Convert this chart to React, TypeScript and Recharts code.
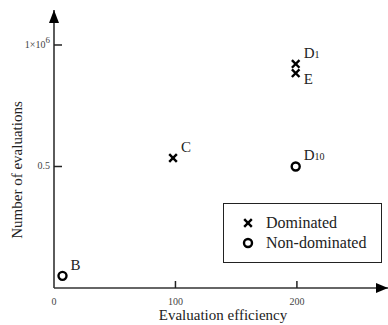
import { ScatterChart, Scatter, XAxis, YAxis, ReferenceDot, Legend } from 'recharts'

const dominatedNames = ['C', 'D1', 'E']
const dominatedX = [98, 199, 199]
const dominatedY = [535000, 922000, 884000]

const nonDominatedNames = ['B', 'D10']
const nonDominatedX = [7, 199]
const nonDominatedY = [50000, 500000]

const xTicks = [0, 100, 200]
const yTicks = [500000, 1000000]
const X_MAX = 275
const Y_MAX = 1144000

// labels that sit under their marker instead of above it
const labelsBelow = ['E']

const FONT = "'Liberation Serif', serif"
const INK = '#222'

const toPoints = (names: string[], xs: number[], ys: number[]) =>
  names.map((name, i) => ({ name, x: xs[i], y: ys[i] }))

const dominated = toPoints(dominatedNames, dominatedX, dominatedY)
const nonDominated = toPoints(nonDominatedNames, nonDominatedX, nonDominatedY)

function PointLabel({ cx, cy, name }: { cx: number; cy: number; name: string }) {
  const main = name.slice(0, 1)
  const sub = name.slice(1)
  const below = labelsBelow.includes(name)
  return (
    <text
      x={cx + 8}
      y={below ? cy + 11 : cy - 6}
      fontFamily={FONT}
      style={{ fontFamily: FONT, fontSize: 15 }}
      fill={INK}
    >
      {main}
      {sub && <tspan style={{ fontSize: 10 }}>{sub}</tspan>}
    </text>
  )
}

function CrossMark({ cx, cy }: { cx: number; cy: number }) {
  const r = 3.8
  return (
    <g stroke="#000" strokeWidth={2.4}>
      <line x1={cx - r} y1={cy - r} x2={cx + r} y2={cy + r} />
      <line x1={cx - r} y1={cy + r} x2={cx + r} y2={cy - r} />
    </g>
  )
}

function CircleMark({ cx, cy }: { cx: number; cy: number }) {
  return <circle cx={cx} cy={cy} r={4} fill="none" stroke="#000" strokeWidth={2.4} />
}

function renderCross(props: any) {
  const { cx, cy, payload } = props
  return (
    <g>
      <CrossMark cx={cx} cy={cy} />
      <PointLabel cx={cx} cy={cy} name={payload.name} />
    </g>
  )
}

function renderCircle(props: any) {
  const { cx, cy, payload } = props
  return (
    <g>
      <CircleMark cx={cx} cy={cy} />
      <PointLabel cx={cx} cy={cy} name={payload.name} />
    </g>
  )
}

function YTick(props: any) {
  const { x, y, payload } = props
  const v = payload.value as number
  return (
    <g>
      <line x1={x} y1={y} x2={x + 8} y2={y} stroke={INK} strokeWidth={1.5} />
      <text
        x={x - 4}
        y={y + 3}
        textAnchor="end"
        fontFamily={FONT}
        style={{ fontFamily: FONT, fontSize: 10 }}
        fill="#444"
      >
        {v === 1000000 ? (
          <>
            1×10
            <tspan dy={-5} style={{ fontSize: 9 }}>
              6
            </tspan>
          </>
        ) : (
          String(v / 1000000)
        )}
      </text>
    </g>
  )
}

function XTick(props: any) {
  const { x, y, payload } = props
  return (
    <g>
      {payload.value !== 0 && (
        <line x1={x} y1={y} x2={x} y2={y - 7} stroke={INK} strokeWidth={1.5} />
      )}
      <text
        x={x}
        y={y + 17}
        textAnchor="middle"
        fontFamily={FONT}
        style={{ fontFamily: FONT, fontSize: 10 }}
        fill="#444"
      >
        {payload.value}
      </text>
    </g>
  )
}

function LegendBox(props: any) {
  const { payload } = props
  return (
    <div
      style={{
        boxSizing: 'border-box',
        width: 159,
        height: 60,
        border: `1.5px solid ${INK}`,
        background: '#fff',
        fontFamily: FONT,
      }}
    >
      <svg width={156} height={57} style={{ display: 'block' }}>
        {(payload || []).map((entry: any, i: number) => {
          const cy = 19 + i * 20
          return (
            <g key={entry.value}>
              {entry.value === 'Dominated' ? <CrossMark cx={24} cy={cy} /> : <CircleMark cx={24} cy={cy} />}
              <text
                x={42}
                y={cy + 5}
                fontFamily={FONT}
                style={{ fontFamily: FONT, fontSize: 16 }}
                fill={INK}
              >
                {entry.value}
              </text>
            </g>
          )
        })}
      </svg>
    </div>
  )
}

function UpArrow(props: any) {
  const { cx, cy } = props
  return <polygon points={`${cx},${cy} ${cx - 5},${cy + 13} ${cx + 5},${cy + 13}`} fill="#000" />
}

function RightArrow(props: any) {
  const { cx, cy } = props
  return <polygon points={`${cx},${cy} ${cx - 12},${cy - 5} ${cx - 12},${cy + 5}`} fill="#000" />
}

export default function App() {
  return (
    <div style={{ position: 'absolute', left: 0, top: 0, background: '#fff', fontFamily: FONT }}>
      <ScatterChart
        width={388}
        height={325}
        margin={{ top: 10, right: 0, bottom: 0, left: 0 }}
        style={{ fontFamily: FONT }}
      >
        <XAxis
          type="number"
          dataKey="x"
          domain={[0, X_MAX]}
          ticks={xTicks}
          allowDataOverflow
          height={37}
          tickSize={0}
          tickMargin={0}
          tick={<XTick />}
          axisLine={{ stroke: '#333', strokeWidth: 1.6 }}
          label={{
            content: ({ viewBox }: any) => (
              <text
                x={viewBox.x + viewBox.width / 2 + 2}
                y={viewBox.y + 32}
                textAnchor="middle"
                fontFamily={FONT}
                style={{ fontFamily: FONT, fontSize: 15 }}
                fill={INK}
              >
                Evaluation efficiency
              </text>
            ),
          }}
        />
        <YAxis
          type="number"
          dataKey="y"
          domain={[0, Y_MAX]}
          ticks={yTicks}
          allowDataOverflow
          width={54}
          tickSize={0}
          tickMargin={0}
          tick={<YTick />}
          axisLine={{ stroke: '#333', strokeWidth: 1.6 }}
          label={{
            content: ({ viewBox }: any) => {
              const cx = viewBox.x + 17
              const cy = viewBox.y + viewBox.height / 2 + 21
              return (
                <text
                  x={cx}
                  y={cy}
                  transform={`rotate(-90 ${cx} ${cy})`}
                  textAnchor="middle"
                  dominantBaseline="central"
                  fontFamily={FONT}
                  style={{ fontFamily: FONT, fontSize: 15 }}
                  fill={INK}
                >
                  Number of evaluations
                </text>
              )
            },
          }}
        />
        <ReferenceDot x={0} y={Y_MAX} ifOverflow="visible" shape={<UpArrow />} />
        <ReferenceDot x={X_MAX} y={0} ifOverflow="visible" shape={<RightArrow />} />
        <Scatter name="Dominated" data={dominated} shape={renderCross} isAnimationActive={false} />
        <Scatter name="Non-dominated" data={nonDominated} shape={renderCircle} isAnimationActive={false} />
        <Legend
          layout="horizontal"
          verticalAlign="middle"
          align="center"
          content={<LegendBox />}
          wrapperStyle={{ position: 'absolute', left: 223, top: 203, width: 159, height: 60 }}
        />
      </ScatterChart>
    </div>
  )
}
